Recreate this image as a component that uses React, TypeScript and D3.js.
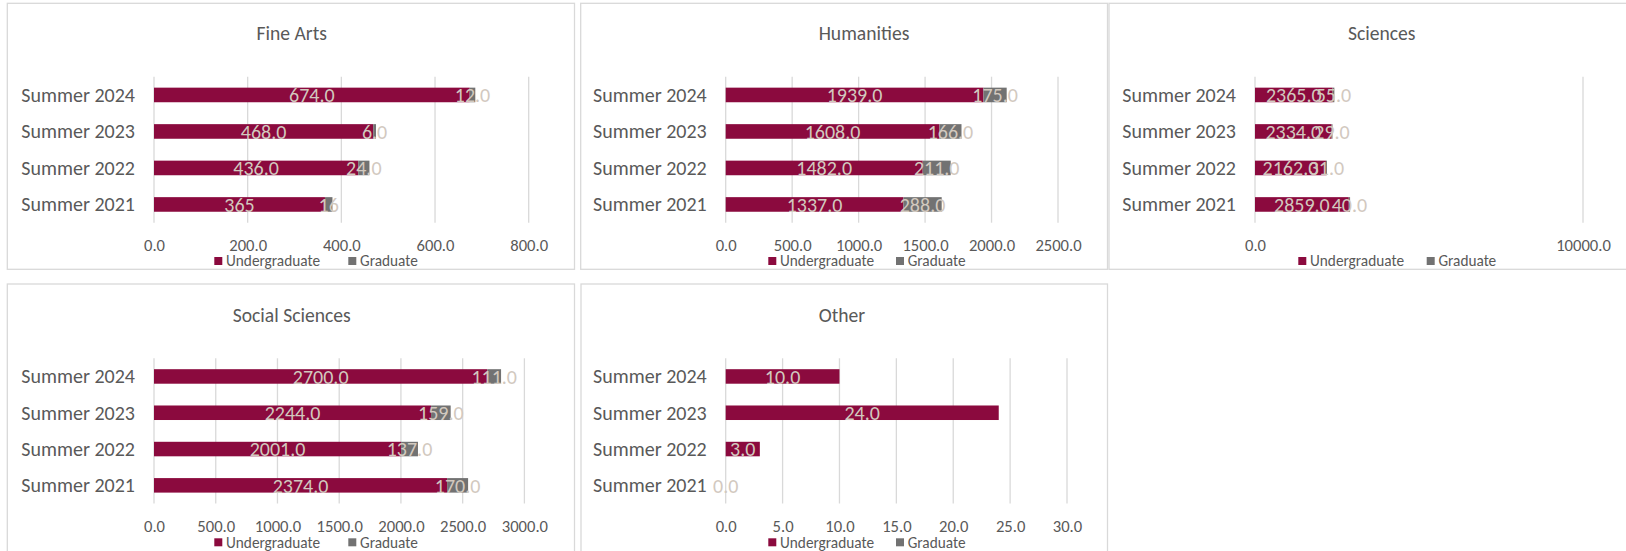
import * as d3 from "d3";
import { useRef, useEffect, useMemo } from "react";

const width = 1626;
const height = 551;

const font = "Carlito, Calibri, Lato, sans-serif";
const textColor = "#595959";
const gridColor = "#d9d9d9";
const labelColor = "#d2c9bf";
const undergradColor = "#8b0a3e";
const gradColor = "#727272";

const years = ["Summer 2021", "Summer 2022", "Summer 2023", "Summer 2024"];
const seriesNames = ["Undergraduate", "Graduate"];
const panelTitles = ["Fine Arts", "Humanities", "Sciences", "Social Sciences", "Other"];

const fineArtsUndergrad = [365, 436, 468, 674];
const fineArtsGrad = [16, 24, 6, 12];
const humanitiesUndergrad = [1337, 1482, 1608, 1939];
const humanitiesGrad = [288, 211, 166, 175];
const sciencesUndergrad = [2859, 2162, 2334, 2365];
const sciencesGrad = [40, 31, 29, 55];
const socialUndergrad = [2374, 2001, 2244, 2700];
const socialGrad = [170, 137, 159, 111];
const otherUndergrad = [0, 3, 24, 10];
const otherGrad: (number | null)[] = [null, null, null, null];

const undergradByPanel = [fineArtsUndergrad, humanitiesUndergrad, sciencesUndergrad, socialUndergrad, otherUndergrad];
const gradByPanel = [fineArtsGrad, humanitiesGrad, sciencesGrad, socialGrad, otherGrad];

const axisMax = [800, 2500, 10000, 3000, 30];
const axisStep = [200, 500, 10000, 500, 5];

// these labels were typed in without the decimal place
const plainLabelYears: Record<string, string[]> = { "Fine Arts": ["Summer 2021"] };

// vertical layout of the two rows of charts
const rows = [
  { top: 3.3, bottom: 269.3, titleY: 33, plotTop: 76.7, plotBottom: 222.7, tickY: 245, legendY: 261 },
  { top: 284, bottom: 553, titleY: 315.5, plotTop: 358.3, plotBottom: 503.5, tickY: 525.7, legendY: 542.3 },
];

// horizontal layout of each chart
const layouts = [
  { row: 0, left: 7.3, right: 574.5, titleX: 291.7, plot: [154, 528.7], legendX: 214.3, legendGap: 134 },
  { row: 0, left: 580.7, right: 1107.5, titleX: 864, plot: [725.7, 1058], legendX: 768.3, legendGap: 127.7 },
  { row: 0, left: 1109, right: 1640, titleX: 1381.7, plot: [1255, 1583], legendX: 1298.3, legendGap: 128.4 },
  { row: 1, left: 7.3, right: 574.5, titleX: 291.7, plot: [154, 524.4], legendX: 214.3, legendGap: 134 },
  { row: 1, left: 581, right: 1107.5, titleX: 842, plot: [725.7, 1067], legendX: 768.3, legendGap: 127.7 },
];

const Panel = ({ index }: { index: number }) => {
  const gx = useRef<SVGGElement>(null);
  const title = panelTitles[index];
  const layout = layouts[index];
  const row = rows[layout.row];
  const undergrad = undergradByPanel[index];
  const grad = gradByPanel[index];
  const ticks = d3.range(0, axisMax[index] + axisStep[index] / 2, axisStep[index]);

  const x = useMemo(
    () => d3.scaleLinear().domain([0, axisMax[index]]).range(layout.plot),
    [index]
  );

  const y = useMemo(
    () =>
      d3
        .scaleBand()
        .domain([...years].reverse())
        .range([row.plotTop, row.plotBottom])
        .paddingInner(0.6)
        .paddingOuter(0.3),
    [index]
  );

  useEffect(() => {
    if (!gx.current) return;
    const g = d3.select(gx.current);
    g.call(
      d3
        .axisBottom(x)
        .tickValues(ticks)
        .tickFormat(d3.format(".1f"))
        .tickSize(0)
        .tickPadding(0)
    )
      .attr("font-family", null)
      .attr("font-size", null)
      .call((g) => g.select(".domain").remove())
      .call((g) =>
        g
          .selectAll(".tick text")
          .attr("font-family", font)
          .attr("font-size", 16.6)
          .attr("fill", textColor)
          .attr("y", 0)
          .attr("dy", "0.35em")
      );
    return () => {
      g.selectAll("*").remove();
    };
  }, [x]);

  const fmt = (v: number, year: string) =>
    (plainLabelYears[title] || []).includes(year) ? d3.format("d")(v) : d3.format(".1f")(v);

  const bh = y.bandwidth();

  return (
    <g>
      <rect
        x={layout.left}
        y={row.top}
        width={layout.right - layout.left}
        height={row.bottom - row.top}
        fill="#fff"
        stroke={gridColor}
        strokeWidth={1.3}
      />
      <text
        x={layout.titleX}
        y={row.titleY}
        dy="0.35em"
        textAnchor="middle"
        fontFamily={font}
        fontSize={19.6}
        fill={textColor}
      >
        {title}
      </text>

      {ticks.map((t) => (
        <line
          key={t}
          x1={x(t)}
          x2={x(t)}
          y1={row.plotTop}
          y2={row.plotBottom}
          stroke={gridColor}
          strokeWidth={1.3}
        />
      ))}

      {years.map((yr, i) => (
        <g key={yr}>
          <rect
            x={x(0)}
            y={y(yr)}
            width={x(undergrad[i]) - x(0)}
            height={bh}
            fill={undergradColor}
          />
          {grad[i] != null && (
            <rect
              x={x(undergrad[i])}
              y={y(yr)}
              width={x(undergrad[i] + (grad[i] as number)) - x(undergrad[i])}
              height={bh}
              fill={gradColor}
            />
          )}
        </g>
      ))}

      {years.map((yr, i) => (
        <text
          key={yr}
          x={(x(0) + x(undergrad[i])) / 2}
          y={(y(yr) as number) + bh / 2}
          dy="0.36em"
          textAnchor="middle"
          fontFamily={font}
          fontSize={20}
          fill={labelColor}
        >
          {fmt(undergrad[i], yr)}
        </text>
      ))}
      {years.map((yr, i) =>
        grad[i] == null ? null : (
          <text
            key={yr}
            x={(x(undergrad[i]) + x(undergrad[i] + (grad[i] as number))) / 2}
            y={(y(yr) as number) + bh / 2}
            dy="0.36em"
            textAnchor="middle"
            fontFamily={font}
            fontSize={20}
            fill={labelColor}
          >
            {fmt(grad[i] as number, yr)}
          </text>
        )
      )}

      {years.map((yr) => (
        <text
          key={yr}
          x={layout.plot[0] - 19}
          y={(y(yr) as number) + bh / 2}
          dy="0.35em"
          textAnchor="end"
          fontFamily={font}
          fontSize={20}
          fill={textColor}
        >
          {yr}
        </text>
      ))}

      <g ref={gx} transform={`translate(0, ${row.tickY})`} />

      {seriesNames.map((name, i) => {
        const lx = layout.legendX + i * layout.legendGap;
        return (
          <g key={name}>
            <rect
              x={lx}
              y={row.legendY - 4}
              width={8}
              height={8}
              fill={i === 0 ? undergradColor : gradColor}
            />
            <text
              x={lx + 11.7}
              y={row.legendY}
              dy="0.35em"
              fontFamily={font}
              fontSize={15.3}
              fill={textColor}
            >
              {name}
            </text>
          </g>
        );
      })}
    </g>
  );
};

const App = () => {
  return (
    <svg
      width={width}
      height={height}
      viewBox={`0 0 ${width} ${height}`}
      style={{ position: "absolute", left: 0, top: 0, display: "block", background: "#fff" }}
    >
      {/* the Sciences chart sits on top of Humanities, so draw it later */}
      {[0, 1, 3, 4, 2].map((i) => (
        <Panel key={i} index={i} />
      ))}
    </svg>
  );
};

export default App;
